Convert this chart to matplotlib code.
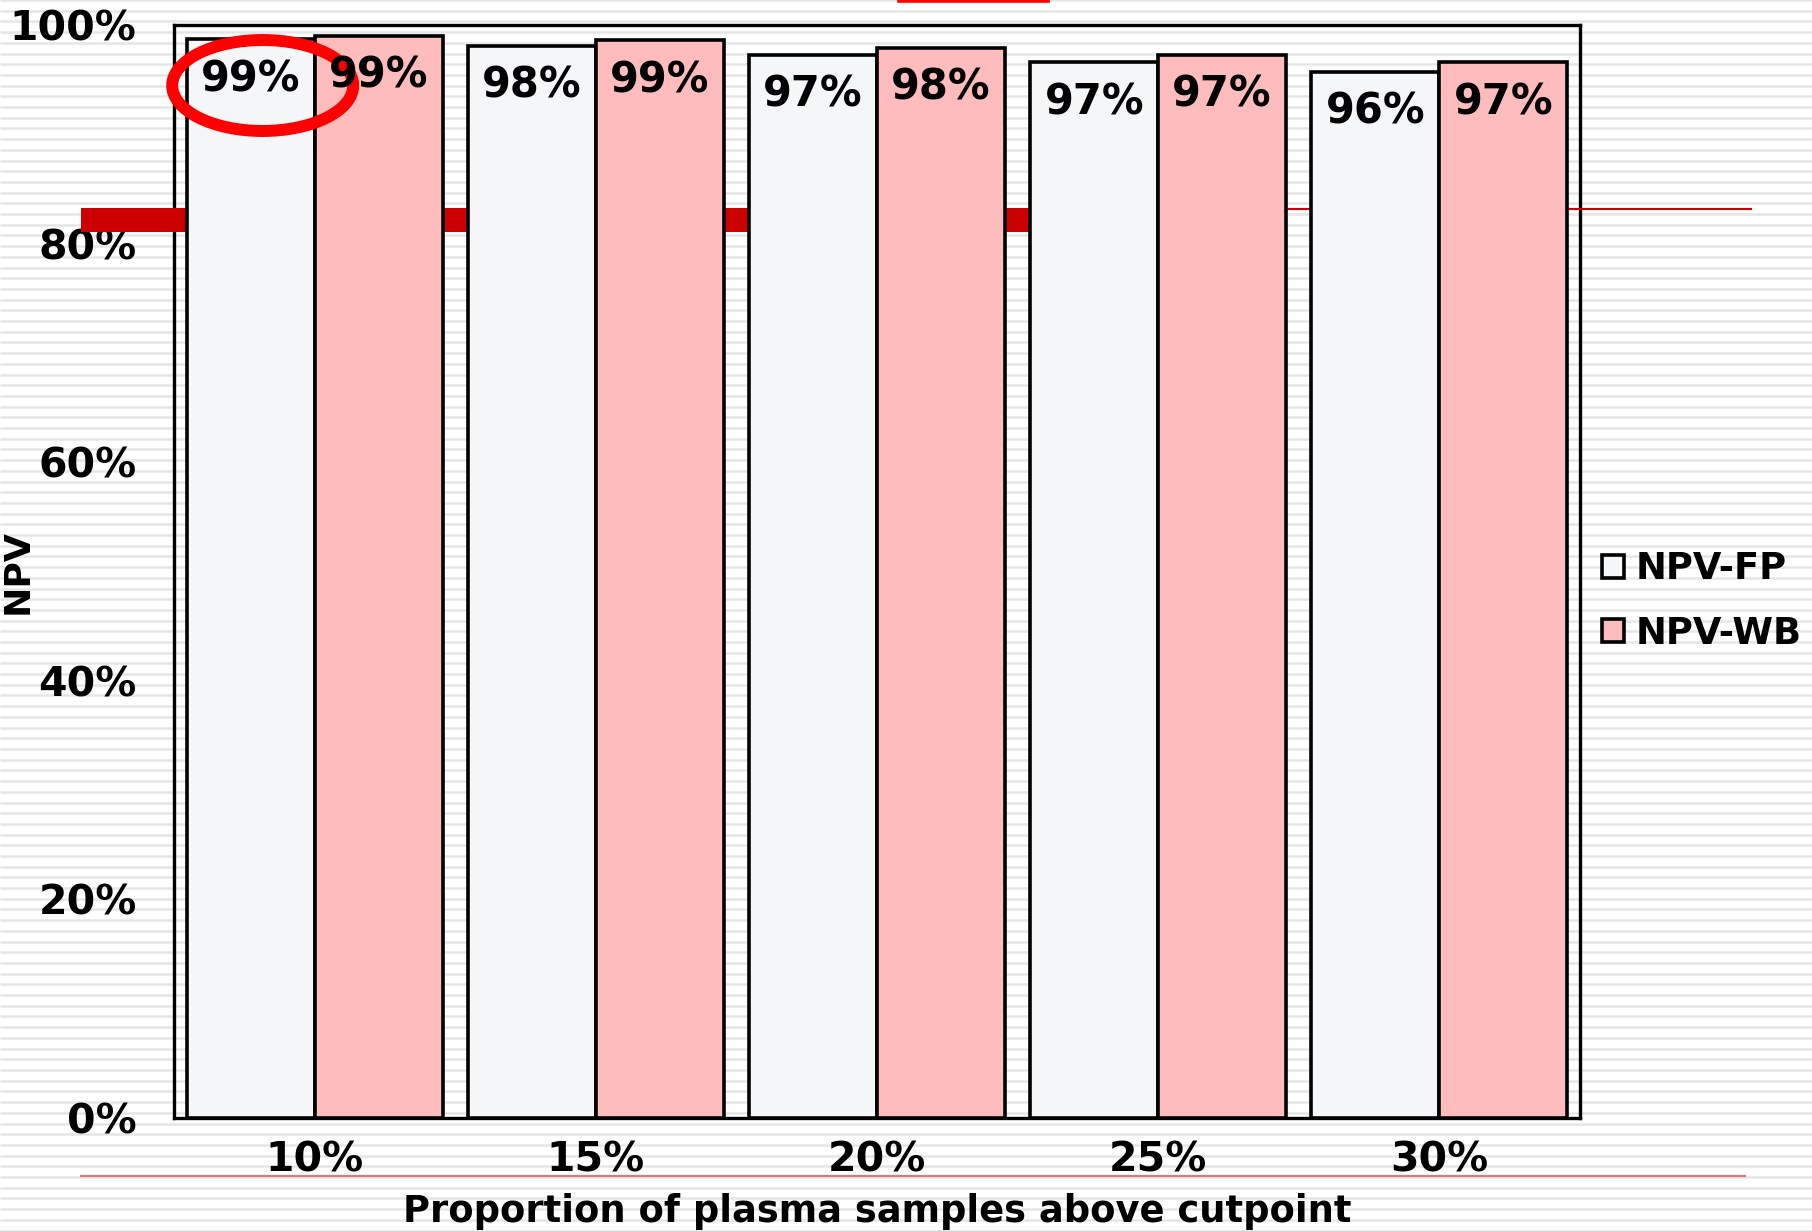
import numpy as np
import matplotlib
matplotlib.use("Agg")
import matplotlib.pyplot as plt
from matplotlib.patches import Rectangle, Ellipse
from matplotlib.lines import Line2D
from matplotlib.collections import LineCollection
from matplotlib.ticker import PercentFormatter

# ---- data ----
categories = ["10%", "15%", "20%", "25%", "30%"]
npv_fp = [0.987, 0.981, 0.973, 0.966, 0.957]
npv_wb = [0.990, 0.986, 0.979, 0.973, 0.966]
series_names = ["NPV-FP", "NPV-WB"]
yticks = [0.0, 0.2, 0.4, 0.6, 0.8, 1.0]
xlabel = "Proportion of plasma samples above cutpoint"
ylabel = "NPV"

# ---- style ----
W, H = 1812, 1231
plt.rcParams['font.family'] = ['DejaVu Sans']
plt.rcParams['font.weight'] = 'bold'
fc_fp = "#f4f6f8"
fc_wb = "#febcbc"

fig = plt.figure(figsize=(W / 100, H / 100), dpi=100)
fig.patch.set_facecolor("white")

def fx(px):
    return px / W

def fy(py):
    return 1 - py / H

# background stripes (figure decoration)
ys = np.arange(0, H + 11, 10.7)
segs = [[(0, fy(y)), (1, fy(y))] for y in ys]
lc = LineCollection(segs, colors="#e6e6e6", linewidths=1.8,
                    transform=fig.transFigure, zorder=-5)
fig.add_artist(lc)

ax = fig.add_axes([fx(174), fy(1118), fx(1580) - fx(174), fy(25) - fy(1118)])
ax.set_facecolor("none")

x = np.arange(len(categories))
bw = 0.455
b1 = ax.bar(x - bw / 2, npv_fp, bw, color=fc_fp, edgecolor="black",
            linewidth=2.6, zorder=3, label=series_names[0])
b2 = ax.bar(x + bw / 2, npv_wb, bw, color=fc_wb, edgecolor="black",
            linewidth=2.6, zorder=3, label=series_names[1])

for bars, vals in ((b1, npv_fp), (b2, npv_wb)):
    for rect, v in zip(bars, vals):
        ax.annotate(f"{v:.0%}", (rect.get_x() + rect.get_width() / 2, v),
                    xytext=(0, -37.4), textcoords="offset points",
                    ha="center", va="baseline", fontsize=30,
                    fontweight="bold", zorder=6)

ax.set_xlim(-0.5, len(categories) - 0.5)
ax.set_ylim(0, 1)
ax.set_xticks(x)
ax.set_xticklabels(categories)
ax.set_yticks(yticks)
ax.yaxis.set_major_formatter(PercentFormatter(1.0, decimals=0))
ax.tick_params(axis="both", length=0, labelsize=29.5)
ax.tick_params(axis="x", pad=16)
ax.tick_params(axis="y", pad=27)
for s in ax.spines.values():
    s.set_linewidth(2.4)
    s.set_color("black")

ax.set_xlabel(xlabel, fontsize=26.6, fontweight="bold")
ax.xaxis.label.set_va("baseline")
ax.xaxis.set_label_coords(0.5, (1118 - 1222) / 1093)
ax.set_ylabel(ylabel, fontsize=26, fontweight="bold")
ax.yaxis.label.set_va("center")
ax.yaxis.set_label_coords((17.5 - 174) / 1406, 0.5)

leg = ax.legend(handles=[b1, b2], loc="center left",
                bbox_to_anchor=(fx(1602), fy(601)),
                bbox_transform=fig.transFigure, frameon=False,
                fontsize=26.6, handlelength=0.6, handleheight=0.6,
                handletextpad=0.3, labelspacing=0.74,
                borderpad=0, borderaxespad=0)
for t in leg.get_texts():
    t.set_fontweight("bold")

# slide decorations
ax.add_patch(Rectangle((fx(81), fy(232)), fx(1160) - fx(81), fy(208) - fy(232),
                       transform=fig.transFigure, facecolor="#cc0000",
                       edgecolor="none", clip_on=False, zorder=2.7))
ax.add_line(Line2D([fx(1160), fx(1751)], [fy(209), fy(209)],
                   transform=fig.transFigure, color="#cc0000",
                   linewidth=1.5, clip_on=False, zorder=2.7))
fig.add_artist(Line2D([fx(81), fx(1745)], [fy(1176), fy(1176)],
                      transform=fig.transFigure, color="#e07878",
                      linewidth=1.6))
fig.add_artist(Line2D([fx(899), fx(1048)], [fy(1.2), fy(1.2)],
                      transform=fig.transFigure, color="#ff0000",
                      linewidth=2.6))
ax.add_patch(Ellipse((fx(262.7), fy(85.5)), fx(181), 91 / H,
                     transform=fig.transFigure, facecolor="none",
                     edgecolor="#ff0000", linewidth=8.6, clip_on=False,
                     zorder=5))

fig.savefig("out.png", dpi=100)
